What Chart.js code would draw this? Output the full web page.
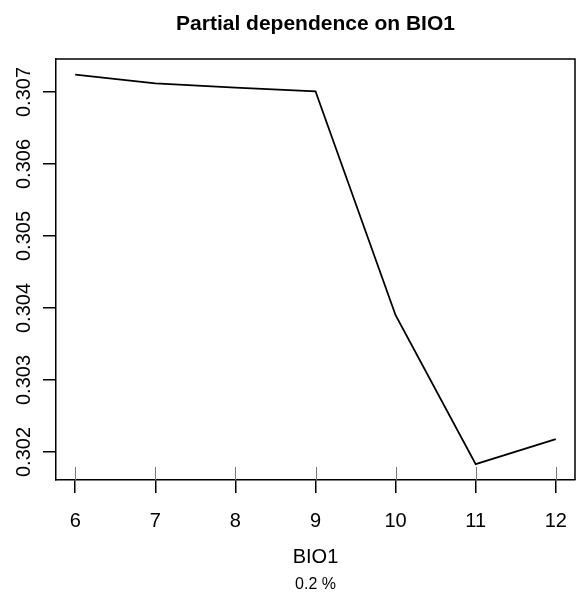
<!DOCTYPE html>
<html>
<head>
<meta charset="utf-8">
<script src="https://cdn.jsdelivr.net/npm/chart.js@4"></script>
<style>
  html, body { margin: 0; padding: 0; background: #fff; }
  canvas { display: block; }
</style>
</head>
<body>
<canvas id="pd" width="576" height="595"></canvas>
<script>
// partial dependence values
const bio1 = [6, 7, 8, 9, 10, 11, 12];
const dependence = [0.30724, 0.30712, 0.30706, 0.30701, 0.30390, 0.30183, 0.30218];
const xTicks = [6, 7, 8, 9, 10, 11, 12];
const yTicks = [0.302, 0.303, 0.304, 0.305, 0.306, 0.307];
const rug = [6, 7, 8, 9, 10, 11, 12];

const FONT = "'Liberation Sans', Arial, sans-serif";

// box, rug, tick labels and titles in R base-graphics style
const rStyle = {
  id: "rStyle",
  afterDraw(chart) {
    const { ctx, chartArea: a, scales: { x, y } } = chart;
    const mid = (a.left + a.right) / 2;
    ctx.save();
    ctx.strokeStyle = "#000";
    ctx.lineWidth = 1.5;
    ctx.beginPath();
    ctx.moveTo(a.left, a.top);
    ctx.lineTo(a.right, a.top);
    ctx.lineTo(a.right, a.bottom);
    ctx.stroke();

    // rug
    ctx.strokeStyle = "#777";
    ctx.lineWidth = 1;
    rug.forEach(v => {
      const px = Math.round(x.getPixelForValue(v)) + 0.5;
      ctx.beginPath();
      ctx.moveTo(px, a.bottom);
      ctx.lineTo(px, a.bottom - 13);
      ctx.stroke();
    });

    ctx.fillStyle = "#000";
    ctx.font = "20px " + FONT;
    ctx.textAlign = "center";
    ctx.textBaseline = "alphabetic";
    xTicks.forEach(v => ctx.fillText(String(v), x.getPixelForValue(v), 527));

    yTicks.forEach(v => {
      ctx.save();
      ctx.translate(30, y.getPixelForValue(v));
      ctx.rotate(-Math.PI / 2);
      ctx.fillText(v.toFixed(3), 0, 0);
      ctx.restore();
    });

    ctx.fillText("BIO1", mid, 563);
    ctx.font = "16px " + FONT;
    ctx.fillText("0.2 %", mid, 589);
    ctx.font = "bold 21px " + FONT;
    ctx.fillText("Partial dependence on BIO1", mid, 30);
    ctx.restore();
  }
};

new Chart(document.getElementById("pd"), {
  type: "line",
  data: {
    datasets: [{
      data: bio1.map((v, i) => ({ x: v, y: dependence[i] })),
      borderColor: "#000",
      borderWidth: 1.8,
      pointRadius: 0,
      tension: 0,
      fill: false
    }]
  },
  options: {
    responsive: false,
    animation: false,
    devicePixelRatio: 1,
    layout: { padding: { top: 59, right: 1, left: 0, bottom: 0 } },
    plugins: { legend: { display: false }, tooltip: { enabled: false } },
    scales: {
      x: {
        type: "linear",
        min: 5.76,
        max: 12.24,
        afterBuildTicks: s => { s.ticks = xTicks.map(v => ({ value: v })); },
        afterFit: s => { s.height = 115; },
        ticks: { display: false },
        grid: { drawOnChartArea: false, drawTicks: true, tickLength: 13, color: "#000", lineWidth: 1.5 },
        border: { display: true, color: "#000", width: 1.5 }
      },
      y: {
        min: 0.301611,
        max: 0.307458,
        afterBuildTicks: s => { s.ticks = yTicks.map(v => ({ value: v })); },
        afterFit: s => { s.width = 56; },
        ticks: { display: false },
        grid: { drawOnChartArea: false, drawTicks: true, tickLength: 13, color: "#000", lineWidth: 1.5 },
        border: { display: true, color: "#000", width: 1.5 }
      }
    }
  },
  plugins: [rStyle]
});
</script>
</body>
</html>
